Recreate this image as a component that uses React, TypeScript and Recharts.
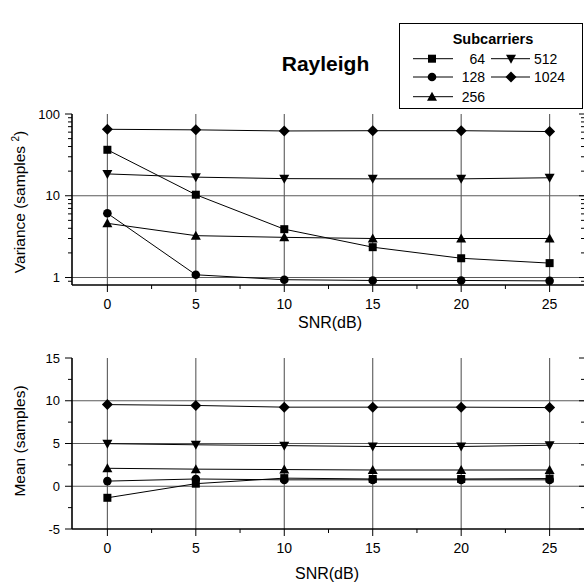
import { LineChart, Line, XAxis, YAxis, ReferenceLine } from 'recharts'

// SNR points (dB)
const snr = [0, 5, 10, 15, 20, 25]

// variance (samples^2), per number of subcarriers
const var64 = [36.5, 10.3, 3.9, 2.35, 1.72, 1.5]
const var128 = [6.1, 1.08, 0.94, 0.92, 0.92, 0.91]
const var256 = [4.6, 3.25, 3.1, 3.0, 3.0, 3.0]
const var512 = [18.5, 16.9, 16.2, 16.1, 16.1, 16.6]
const var1024 = [65, 64, 62, 62.5, 62.5, 61]

// mean (samples)
const mean64 = [-1.35, 0.3, 0.95, 0.85, 0.85, 0.9]
const mean128 = [0.6, 0.85, 0.75, 0.75, 0.75, 0.75]
const mean256 = [2.1, 2.0, 1.95, 1.9, 1.9, 1.9]
const mean512 = [4.98, 4.85, 4.75, 4.65, 4.65, 4.8]
const mean1024 = [9.55, 9.45, 9.25, 9.25, 9.25, 9.2]

const subcarriers = ['64', '128', '256', '512', '1024']
const markers = ['square', 'circle', 'up', 'down', 'diamond']

const xMajor = [0, 5, 10, 15, 20, 25]
const xTicks = [0, 2.5, 5, 7.5, 10, 12.5, 15, 17.5, 20, 22.5, 25]
const varMajor = [1, 10, 100]
const varTicks = [0.9, 1, 2, 3, 4, 5, 6, 7, 8, 9, 10, 20, 30, 40, 50, 60, 70, 80, 90, 100]
const meanMajor = [-5, 0, 5, 10, 15]
const meanTicks = [-5, -2.5, 0, 2.5, 5, 7.5, 10, 12.5, 15]

const varData = snr.map((s, i) => ({ snr: s, s64: var64[i], s128: var128[i], s256: var256[i], s512: var512[i], s1024: var1024[i] }))
const meanData = snr.map((s, i) => ({ snr: s, s64: mean64[i], s128: mean128[i], s256: mean256[i], s512: mean512[i], s1024: mean1024[i] }))

const FONT = '"Liberation Sans", Arial, sans-serif'
const GRID = '#5a5a5a'

function Marker({ kind, cx, cy }: { kind: string; cx: number; cy: number }) {
  if (kind === 'square') return <rect x={cx - 4} y={cy - 4} width={8} height={8} fill="#000" />
  if (kind === 'circle') return <circle cx={cx} cy={cy} r={4.3} fill="#000" />
  if (kind === 'up') return <polygon points={`${cx},${cy - 5} ${cx + 5},${cy + 4} ${cx - 5},${cy + 4}`} fill="#000" />
  if (kind === 'down') return <polygon points={`${cx},${cy + 5} ${cx + 5},${cy - 4} ${cx - 5},${cy - 4}`} fill="#000" />
  return <polygon points={`${cx},${cy - 5.5} ${cx + 5.5},${cy} ${cx},${cy + 5.5} ${cx - 5.5},${cy}`} fill="#000" />
}

const dot = (kind: string) => (p: any) => <Marker key={`${kind}-${p.index}`} kind={kind} cx={p.cx} cy={p.cy} />

const leftTick = (major: number[]) => (p: any) => {
  const isMajor = major.includes(p.payload.value)
  return (
    <g>
      <line x1={p.x} x2={p.x - (isMajor ? 7 : 4)} y1={p.y} y2={p.y} stroke="#000" />
      {isMajor && (
        <text x={p.x - 12} y={p.y + 4.5} textAnchor="end" fontSize={13} fontFamily={FONT} fill="#000">
          {p.payload.value}
        </text>
      )}
    </g>
  )
}

const rightTick = (major: number[]) => (p: any) => {
  const isMajor = major.includes(p.payload.value)
  return <line x1={p.x} x2={p.x - (isMajor ? 6 : 4)} y1={p.y} y2={p.y} stroke="#000" />
}

const bottomTick = (p: any) => {
  const isMajor = xMajor.includes(p.payload.value)
  return (
    <g>
      <line x1={p.x} x2={p.x} y1={p.y} y2={p.y + (isMajor ? 7 : 4)} stroke="#000" />
      {isMajor && (
        <text x={p.x} y={p.y + 23.5} textAnchor="middle" fontSize={14} fontFamily={FONT} fill="#000">
          {p.payload.value}
        </text>
      )}
    </g>
  )
}

const topTick = (p: any) => {
  const isMajor = xMajor.includes(p.payload.value)
  return <line x1={p.x} x2={p.x} y1={p.y} y2={p.y + (isMajor ? 6 : 4)} stroke="#000" />
}

const keys = ['s64', 's128', 's256', 's512', 's1024']

function Panel({ data, log, top, height, marginTop, plotH }: any) {
  const yTicks = log ? varTicks : meanTicks
  const yMajor = log ? varMajor : meanMajor
  const yGrid = log ? [1, 10] : [0, 5, 10]
  return (
    <div style={{ position: 'absolute', left: 0, top }}>
      <LineChart width={586} height={height} data={data} margin={{ top: marginTop, right: 0, bottom: 0, left: 0 }}>
        <XAxis
          xAxisId="b"
          dataKey="snr"
          type="number"
          domain={[-2, 27]}
          ticks={xTicks}
          interval={0}
          height={height - marginTop - plotH}
          tickSize={0}
          tickMargin={0}
          tickLine={false}
          tick={bottomTick}
          axisLine={{ stroke: '#000', strokeWidth: 1.6 }}
        />
        <XAxis
          xAxisId="t"
          orientation="top"
          dataKey="snr"
          type="number"
          domain={[-2, 27]}
          ticks={xTicks}
          interval={0}
          height={0}
          tickSize={0}
          tickMargin={0}
          tickLine={false}
          tick={topTick}
          axisLine={{ stroke: '#000', strokeWidth: 1.6 }}
        />
        <YAxis
          yAxisId="l"
          type="number"
          scale={log ? 'log' : 'linear'}
          domain={log ? [0.81, 100] : [-5, 15]}
          allowDataOverflow
          ticks={yTicks}
          interval={0}
          width={72}
          tickSize={0}
          tickMargin={0}
          tickLine={false}
          tick={leftTick(yMajor)}
          axisLine={{ stroke: '#000', strokeWidth: 1.6 }}
        />
        <YAxis
          yAxisId="r"
          orientation="right"
          type="number"
          scale={log ? 'log' : 'linear'}
          domain={log ? [0.81, 100] : [-5, 15]}
          allowDataOverflow
          ticks={yTicks}
          interval={0}
          width={1}
          tickSize={0}
          tickMargin={0}
          tickLine={false}
          tick={rightTick(yMajor)}
          axisLine={{ stroke: '#000', strokeWidth: 1.6 }}
        />
        {xMajor.map((v) => (
          <ReferenceLine key={`vx${v}`} x={v} xAxisId="b" yAxisId="l" stroke={GRID} strokeWidth={1.1} />
        ))}
        {yGrid.map((v) => (
          <ReferenceLine key={`hy${v}`} y={v} xAxisId="b" yAxisId="l" stroke={GRID} strokeWidth={1.1} />
        ))}
        {keys.map((k, i) => (
          <Line
            key={k}
            xAxisId="b"
            yAxisId="l"
            dataKey={k}
            stroke="#000"
            strokeWidth={1}
            dot={dot(markers[i])}
            activeDot={false}
            isAnimationActive={false}
          />
        ))}
      </LineChart>
    </div>
  )
}

function Overlay() {
  const col1 = [0, 1, 2]
  const rows = [58.7, 77, 96.7]
  return (
    <svg width={584} height={585} style={{ position: 'absolute', left: 0, top: 0, pointerEvents: 'none' }} fontFamily={FONT}>
      <text x={325.5} y={70.5} textAnchor="middle" fontSize={21} fontWeight="bold" fill="#000">Rayleigh</text>
      <rect x={399.5} y={23.5} width={183} height={85} fill="#fff" stroke="#000" strokeWidth={1} />
      <text x={493} y={44} textAnchor="middle" fontSize={14.5} fontWeight="bold" fill="#000">Subcarriers</text>
      {col1.map((i) => (
        <g key={`l${i}`}>
          <line x1={413} x2={453} y1={rows[i]} y2={rows[i]} stroke="#000" />
          <Marker kind={markers[i]} cx={432} cy={rows[i]} />
          <text x={485} y={rows[i] + 5} textAnchor="end" fontSize={14} fill="#000">{subcarriers[i]}</text>
        </g>
      ))}
      {[3, 4].map((i, r) => (
        <g key={`l${i}`}>
          <line x1={491} x2={530} y1={rows[r]} y2={rows[r]} stroke="#000" />
          <Marker kind={markers[i]} cx={511} cy={rows[r]} />
          <text x={534} y={rows[r] + 5} fontSize={14} fill="#000">{subcarriers[i]}</text>
        </g>
      ))}
      <text transform="translate(25,202) rotate(-90)" textAnchor="middle" fontSize={15.5} fill="#000">
        Variance (samples <tspan fontSize={10} dy={-6}>2</tspan><tspan dy={6}>)</tspan>
      </text>
      <text x={330} y={327.5} textAnchor="middle" fontSize={16} fill="#000">SNR(dB)</text>
      <text transform="translate(25,441) rotate(-90)" textAnchor="middle" fontSize={15.5} fill="#000">
        Mean (samples)
      </text>
      <text x={327} y={578.5} textAnchor="middle" fontSize={16} fill="#000">SNR(dB)</text>
    </svg>
  )
}

export default function App() {
  return (
    <div style={{ position: 'absolute', left: 0, top: 0, width: 584, height: 585, overflow: 'hidden', background: '#fff' }}>
      <Panel data={varData} log top={0} height={330} marginTop={114} plotH={171} />
      <Panel data={meanData} log={false} top={330} height={255} marginTop={28} plotH={171} />
      <Overlay />
    </div>
  )
}
